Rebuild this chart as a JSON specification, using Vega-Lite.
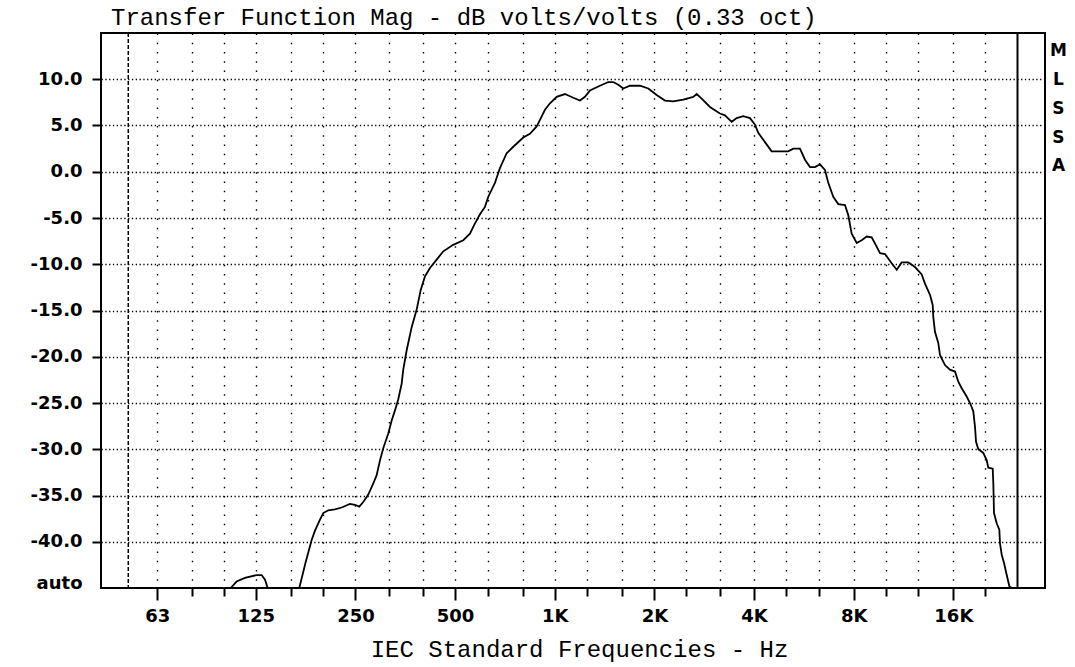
{
  "$schema": "https://vega.github.io/schema/vega-lite/v6.json",
  "width": 944,
  "height": 555,
  "autosize": {"type": "none"},
  "padding": {"left": 101, "top": 33, "right": 30, "bottom": 79},
  "background": "white",
  "config": {
    "view": {"stroke": "black", "strokeWidth": 2},
    "font": "DejaVu Sans"
  },
  "title": {
    "text": "Transfer Function Mag - dB volts/volts (0.33 oct)",
    "anchor": "start",
    "frame": "group",
    "dx": 10,
    "dy": 24,
    "offset": 7,
    "baseline": "alphabetic",
    "font": "Liberation Mono",
    "fontSize": 24,
    "fontWeight": "normal",
    "color": "black"
  },
  "datasets": {
    "curve": [
      {"f": 105, "db": -45.0}, {"f": 109.4, "db": -44.3}, {"f": 115.9, "db": -43.9}, {"f": 125.8, "db": -43.6},
      {"f": 130.2, "db": -43.6}, {"f": 133.3, "db": -44.1}, {"f": 135.8, "db": -45.0}, {"f": 140, "db": -48},
      {"f": 160, "db": -48}, {"f": 169.2, "db": -45.0}, {"f": 176.6, "db": -42.3}, {"f": 184.4, "db": -39.8},
      {"f": 188.7, "db": -38.8}, {"f": 195.4, "db": -37.6}, {"f": 199.9, "db": -36.9}, {"f": 207, "db": -36.6},
      {"f": 216.8, "db": -36.5}, {"f": 227.2, "db": -36.3}, {"f": 240.7, "db": -35.9}, {"f": 249.2, "db": -36.0},
      {"f": 256.8, "db": -36.2}, {"f": 264, "db": -35.7}, {"f": 273.4, "db": -34.9}, {"f": 283.1, "db": -33.7},
      {"f": 289.8, "db": -32.8}, {"f": 296.6, "db": -31.2}, {"f": 303.4, "db": -29.9}, {"f": 314.2, "db": -28.3},
      {"f": 321.7, "db": -26.9}, {"f": 329.2, "db": -25.8}, {"f": 336.8, "db": -24.6}, {"f": 344.9, "db": -22.9},
      {"f": 348.7, "db": -21.4}, {"f": 357.1, "db": -19.3}, {"f": 369.7, "db": -16.8}, {"f": 382.8, "db": -14.9},
      {"f": 393.6, "db": -12.8}, {"f": 405.6, "db": -11.3}, {"f": 419.9, "db": -10.4}, {"f": 439.9, "db": -9.5},
      {"f": 460.6, "db": -8.6}, {"f": 493.7, "db": -7.9}, {"f": 529.4, "db": -7.4}, {"f": 554.6, "db": -6.7},
      {"f": 570.2, "db": -5.8}, {"f": 594.5, "db": -4.6}, {"f": 615.6, "db": -3.8}, {"f": 629.9, "db": -2.7},
      {"f": 659.9, "db": -1.2}, {"f": 683.2, "db": 0.4}, {"f": 715.8, "db": 2.0}, {"f": 749.5, "db": 2.7},
      {"f": 803.5, "db": 3.7}, {"f": 841.8, "db": 4.1}, {"f": 881.9, "db": 4.9}, {"f": 902.5, "db": 5.6},
      {"f": 934.4, "db": 6.7}, {"f": 967.5, "db": 7.4}, {"f": 1013.6, "db": 8.1}, {"f": 1073.8, "db": 8.4},
      {"f": 1137.7, "db": 8.0}, {"f": 1192, "db": 7.7}, {"f": 1234, "db": 8.1}, {"f": 1277.8, "db": 8.8},
      {"f": 1369.8, "db": 9.3}, {"f": 1451, "db": 9.7}, {"f": 1502.5, "db": 9.7}, {"f": 1555.7, "db": 9.4},
      {"f": 1610.7, "db": 9.0}, {"f": 1687.7, "db": 9.3}, {"f": 1809, "db": 9.3}, {"f": 1917, "db": 9.0},
      {"f": 2032, "db": 8.3}, {"f": 2153, "db": 7.7}, {"f": 2281, "db": 7.6}, {"f": 2445, "db": 7.8},
      {"f": 2621, "db": 8.1}, {"f": 2684, "db": 8.4}, {"f": 2779, "db": 7.9}, {"f": 2944, "db": 7.0},
      {"f": 3156, "db": 6.3}, {"f": 3268, "db": 6.1}, {"f": 3424, "db": 5.4}, {"f": 3545, "db": 5.8},
      {"f": 3712, "db": 6.0}, {"f": 3889, "db": 5.8}, {"f": 4026, "db": 5.1}, {"f": 4119, "db": 4.2},
      {"f": 4316, "db": 3.2}, {"f": 4521, "db": 2.2}, {"f": 4790, "db": 2.2}, {"f": 5075, "db": 2.2},
      {"f": 5255, "db": 2.5}, {"f": 5506, "db": 2.5}, {"f": 5701, "db": 1.3}, {"f": 5903, "db": 0.5},
      {"f": 6111, "db": 0.5}, {"f": 6328, "db": 0.8}, {"f": 6551, "db": 0.2}, {"f": 6704, "db": -1.2},
      {"f": 6941, "db": -2.7}, {"f": 7188, "db": -3.5}, {"f": 7530, "db": -3.6}, {"f": 7706, "db": -4.7},
      {"f": 7889, "db": -6.7}, {"f": 8169, "db": -7.7}, {"f": 8458, "db": -7.4}, {"f": 8758, "db": -7.0},
      {"f": 9067, "db": -7.1}, {"f": 9387, "db": -8.1}, {"f": 9608, "db": -8.8}, {"f": 9948, "db": -8.9},
      {"f": 10420, "db": -9.9}, {"f": 10792, "db": -10.6}, {"f": 11170, "db": -9.8}, {"f": 11699, "db": -9.8},
      {"f": 12254, "db": -10.3}, {"f": 12839, "db": -11.1}, {"f": 13136, "db": -12.1}, {"f": 13602, "db": -13.3},
      {"f": 13860, "db": -14.4}, {"f": 13917, "db": -15.7}, {"f": 14081, "db": -17.3}, {"f": 14408, "db": -18.5},
      {"f": 14578, "db": -19.8}, {"f": 15095, "db": -20.9}, {"f": 15630, "db": -21.4}, {"f": 16185, "db": -21.6},
      {"f": 16563, "db": -22.7}, {"f": 16960, "db": -23.4}, {"f": 17558, "db": -24.3}, {"f": 17968, "db": -25.0},
      {"f": 18383, "db": -25.9}, {"f": 18604, "db": -27.6}, {"f": 18736, "db": -29.2}, {"f": 19039, "db": -30.0},
      {"f": 19706, "db": -30.4}, {"f": 20179, "db": -31.2}, {"f": 20406, "db": -32.0}, {"f": 21042, "db": -32.1},
      {"f": 21130, "db": -33.7}, {"f": 21231, "db": -36.9}, {"f": 21634, "db": -38.0}, {"f": 22031, "db": -38.7},
      {"f": 22138, "db": -40.2}, {"f": 22403, "db": -41.4}, {"f": 22762, "db": -42.3}, {"f": 23197, "db": -43.6},
      {"f": 23619, "db": -44.8}, {"f": 24016, "db": -45.0}
    ]
  },
  "layer": [
    {
      "data": {"name": "curve"},
      "mark": {"type": "line", "color": "black", "strokeWidth": 1.8, "clip": true},
      "encoding": {
        "x": {
          "field": "f",
          "type": "quantitative",
          "scale": {"type": "log", "domain": [42.6, 30270], "nice": false},
          "axis": {
            "values": [63, 80, 100, 125, 160, 200, 250, 315, 400, 500, 630, 800, 1000, 1250, 1600, 2000, 2500, 3150, 4000, 5000, 6300, 8000, 10000, 12500, 16000, 20000],
            "labelExpr": "datum.value >= 1000 ? (indexof([1000,2000,4000,8000,16000], datum.value) >= 0 ? (datum.value/1000) + 'K' : '') : (indexof([63,125,250,500], datum.value) >= 0 ? datum.value + '' : '')",
            "title": "IEC Standard Frequencies - Hz",
            "titleFont": "Liberation Mono",
            "titleFontSize": 24,
            "titleFontWeight": "normal",
            "titleColor": "black",
            "titlePadding": 12,
            "titleX": 478,
            "labelFont": "DejaVu Sans",
            "labelFontSize": 18,
            "labelFontWeight": "bold",
            "labelColor": "black",
            "labelPadding": 7,
            "labelOverlap": false,
            "labelFlush": false,
            "labelBound": false,
            "domain": false,
            "tickColor": "black",
            "tickWidth": 2,
            "tickSize": {"condition": {"test": "indexof([63,125,250,500,1000,2000,4000,8000,16000], datum.value) >= 0", "value": 12}, "value": 8},
            "grid": true,
            "gridColor": "black",
            "gridDash": [1.5, 7.75],
            "gridWidth": 1.4,
            "gridOpacity": 1
          }
        },
        "y": {
          "field": "db",
          "type": "quantitative",
          "scale": {"domain": [-45, 15], "nice": false, "zero": false},
          "axis": {
            "values": [-45, -40, -35, -30, -25, -20, -15, -10, -5, 0, 5, 10],
            "labelExpr": "datum.value == -45 ? 'auto' : (datum.value < 0 ? '-' : '') + format(abs(datum.value), '.1f')",
            "title": null,
            "labelFont": "DejaVu Sans",
            "labelFontSize": 18,
            "labelFontWeight": "bold",
            "labelColor": "black",
            "labelPadding": 10,
            "labelBaseline": {"condition": {"test": "datum.value == -45", "value": "alphabetic"}, "value": "middle"},
            "labelOverlap": false,
            "labelFlush": false,
            "labelBound": false,
            "domain": false,
            "tickColor": "black",
            "tickWidth": 2,
            "tickSize": 9,
            "tickOpacity": {"condition": {"test": "datum.value == -45", "value": 0}, "value": 1},
            "grid": true,
            "gridColor": "black",
            "gridDash": [1.3, 2.5],
            "gridWidth": 1.4,
            "gridOpacity": {"condition": {"test": "datum.value == -45", "value": 0}, "value": 1}
          }
        }
      }
    },
    {
      "data": {"values": [{"marker": "dashed"}]},
      "mark": {"type": "rule", "color": "black", "strokeDash": [4, 2], "strokeWidth": 1.5},
      "encoding": {"x": {"datum": 51.5, "type": "quantitative"}}
    },
    {
      "data": {"values": [{"marker": "solid"}]},
      "mark": {"type": "rule", "color": "black", "strokeWidth": 2},
      "encoding": {"x": {"datum": 25000, "type": "quantitative"}}
    },
    {
      "data": {"values": [{"label": "MLSSA"}]},
      "mark": {"type": "text", "font": "DejaVu Sans", "fontWeight": "bold", "fontSize": 17, "color": "black", "align": "center", "baseline": "top", "lineHeight": 28.8},
      "encoding": {
        "x": {"datum": 33250, "type": "quantitative"},
        "y": {"datum": 13.9, "type": "quantitative"},
        "text": {"value": ["M", "L", "S", "S", "A"]}
      }
    }
  ]
}
